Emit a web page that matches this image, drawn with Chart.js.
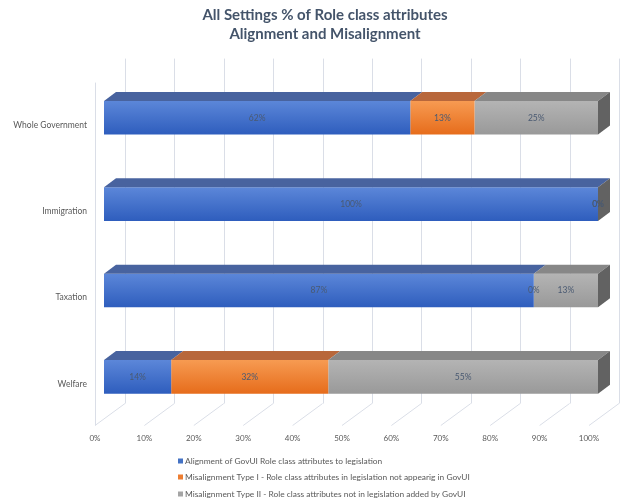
<!DOCTYPE html>
<html><head><meta charset="utf-8">
<script src="https://cdn.jsdelivr.net/npm/chart.js@4/dist/chart.umd.min.js"></script>
<style>html,body{margin:0;padding:0;background:#fff}canvas{display:block}</style>
</head><body>
<canvas id="c" width="624" height="502"></canvas>
<script>
// ---- data ----
const categories = ['Whole Government', 'Immigration', 'Taxation', 'Welfare'];
const alignment = [62, 100, 87, 13.6];
const misalignTypeI = [13, 0, 0, 31.8];
const misalignTypeII = [25, 0, 13, 54.6];
const seriesNames = [
  'Alignment of GovUI Role class attributes to legislation',
  'Misalignment Type I - Role class attributes in legislation not appearig in GovUI',
  'Misalignment Type II - Role class attributes not in legislation added by GovUI'
];
const titleLines = ['All Settings % of Role class attributes', 'Alignment and Misalignment'];
const xTickStep = 10;
const xMin = 0, xMax = 100;

// ---- styles ----
const FONT = 'Lato, "Open Sans", sans-serif';
const palette = [
  {front: ['#5c87d9', '#2e5dbd'], top: '#48639f', legend: '#4472c4'},
  {front: ['#f79b52', '#e66c1b'], top: '#b8673b', legend: '#ed7d31'},
  {front: ['#b4b4b4', '#999999'], top: '#878787', side: '#626262', legend: '#a5a5a5'}
];
const D3 = {dx: 12, dy: -9};           // bar depth
const WALL = {dx: 30, dy: -22, front: 9}; // floor depth, bar offset from floor front
const TITLE_SPAN = {left: 26, right: 624};

function frontFill(i) {
  return (ctx) => {
    const chart = ctx.chart, ys = chart.scales.y;
    if (ctx.type !== 'data' || !ys) return palette[i].legend;
    const c = ys.getPixelForValue(ctx.dataIndex);
    if (!isFinite(c)) return palette[i].legend;
    const g = chart.ctx.createLinearGradient(0, c - 17, 0, c + 17);
    g.addColorStop(0, palette[i].front[0]);
    g.addColorStop(1, palette[i].front[1]);
    return g;
  };
}

const seriesData = [alignment, misalignTypeI, misalignTypeII];

function poly(ctx, pts) {
  ctx.beginPath();
  ctx.moveTo(pts[0][0], pts[0][1]);
  for (let k = 1; k < pts.length; k++) ctx.lineTo(pts[k][0], pts[k][1]);
  ctx.closePath();
  ctx.fill();
}
function line(ctx, x1, y1, x2, y2) {
  ctx.beginPath(); ctx.moveTo(x1, y1); ctx.lineTo(x2, y2); ctx.stroke();
}

const plot3d = {
  id: 'plot3d',
  afterLayout(chart) {
    const t = chart.titleBlock;
    if (t) { t.left = TITLE_SPAN.left; t.right = TITLE_SPAN.right; t.width = t.right - t.left; }
  },
  beforeDatasetsDraw(chart) {
    const {ctx, scales: {x}, chartArea} = chart;
    ctx.save();
    ctx.strokeStyle = '#dadee7';
    ctx.lineWidth = 1;
    const floorFront = chartArea.bottom + 5.5;
    const backBottom = floorFront + WALL.dy;
    const backTop = chartArea.top - 16;
    x.ticks.forEach(t => {
      const px = x.getPixelForValue(t.value);
      const fx = px - WALL.front, bx = fx + WALL.dx;
      line(ctx, Math.round(bx) + 0.5, backTop, Math.round(bx) + 0.5, backBottom);
      line(ctx, bx, backBottom, fx, floorFront);
    });
    const lx = Math.round(x.getPixelForValue(xMin) - WALL.front) + 0.5;
    line(ctx, lx, backTop - WALL.dy + 2, lx, floorFront);
    ctx.restore();
  },
  afterDatasetsDraw(chart) {
    const {ctx} = chart;
    ctx.save();
    const n = chart.data.datasets.length;
    for (let di = 0; di < n; di++) {
      const meta = chart.getDatasetMeta(di);
      meta.data.forEach(bar => {
        const p = bar.getProps(['x', 'y', 'base', 'height'], true);
        const l = Math.min(p.x, p.base), r = Math.max(p.x, p.base);
        const top = p.y - p.height / 2;
        if (r - l > 0.01) {
          ctx.fillStyle = palette[di].top;
          poly(ctx, [[l, top], [r, top], [r + D3.dx, top + D3.dy], [l + D3.dx, top + D3.dy]]);
        }
      });
    }
    const lastMeta = chart.getDatasetMeta(n - 1);
    lastMeta.data.forEach(bar => {
      const p = bar.getProps(['x', 'y', 'base', 'height'], true);
      const r = Math.max(p.x, p.base);
      const top = p.y - p.height / 2, bot = p.y + p.height / 2;
      ctx.fillStyle = palette[n - 1].side;
      poly(ctx, [[r, top], [r + D3.dx, top + D3.dy], [r + D3.dx, bot + D3.dy], [r, bot]]);
    });
    // value labels
    ctx.font = '8.5px ' + FONT;
    ctx.fillStyle = '#4a5a72';
    ctx.textAlign = 'center';
    ctx.textBaseline = 'middle';
    for (let di = 0; di < n; di++) {
      const meta = chart.getDatasetMeta(di);
      meta.data.forEach((bar, i) => {
        const p = bar.getProps(['x', 'y', 'base'], true);
        const v = chart.data.datasets[di].data[i];
        ctx.fillText(Math.round(v) + '%', (p.x + p.base) / 2, p.y);
      });
    }
    ctx.restore();
  },
  afterDraw(chart) {
    const {ctx} = chart;
    ctx.save();
    ctx.font = '8.4px ' + FONT;
    ctx.textBaseline = 'middle';
    ctx.textAlign = 'left';
    const rows = [461, 477, 494];
    chart.data.datasets.forEach((ds, i) => {
      ctx.fillStyle = palette[i].legend;
      ctx.fillRect(178, rows[i] - 2.5, 5, 5);
      ctx.fillStyle = '#595959';
      ctx.fillText(ds.label, 185, rows[i]);
    });
    ctx.restore();
  }
};

function build() {
  new Chart(document.getElementById('c'), {
    type: 'bar',
    data: {
      labels: categories,
      datasets: seriesData.map((d, i) => ({
        label: seriesNames[i],
        data: d,
        backgroundColor: frontFill(i),
        borderWidth: 0,
        barPercentage: 0.39,
        categoryPercentage: 1
      }))
    },
    options: {
      indexAxis: 'y',
      responsive: false,
      animation: false,
      devicePixelRatio: 1,
      layout: {padding: {left: 0, right: 26, top: 0, bottom: 52}},
      plugins: {
        legend: {display: false},
        tooltip: {enabled: false},
        title: {
          display: true,
          text: titleLines,
          color: '#44546a',
          font: {family: FONT, size: 15, weight: 'bold', lineHeight: 1.27},
          padding: {top: 5.5, bottom: 31}
        }
      },
      scales: {
        x: {
          stacked: true, min: xMin, max: xMax,
          grid: {display: false, drawTicks: false},
          border: {display: false},
          ticks: {
            stepSize: xTickStep, padding: 13.5, labelOffset: -WALL.front,
            color: '#595959', font: {family: FONT, size: 8},
            callback: v => v + '%', maxRotation: 0, autoSkip: false
          },
          afterFit(s) { s.height = 30; s.paddingLeft = 0; s.paddingRight = 0; }
        },
        y: {
          stacked: true,
          grid: {display: false, drawTicks: false},
          border: {display: false},
          ticks: {padding: 17, labelOffset: 7, color: '#595959', font: {family: FONT, size: 8.5}},
          afterFit(s) { s.width = 104; s.paddingTop = 0; s.paddingBottom = 0; }
        }
      }
    },
    plugins: [plot3d]
  });
}
if (document.fonts && document.fonts.load) {
  Promise.all([document.fonts.load('13px Lato'), document.fonts.load('bold 13px Lato')]).then(build, build);
} else build();
</script>
</body></html>
